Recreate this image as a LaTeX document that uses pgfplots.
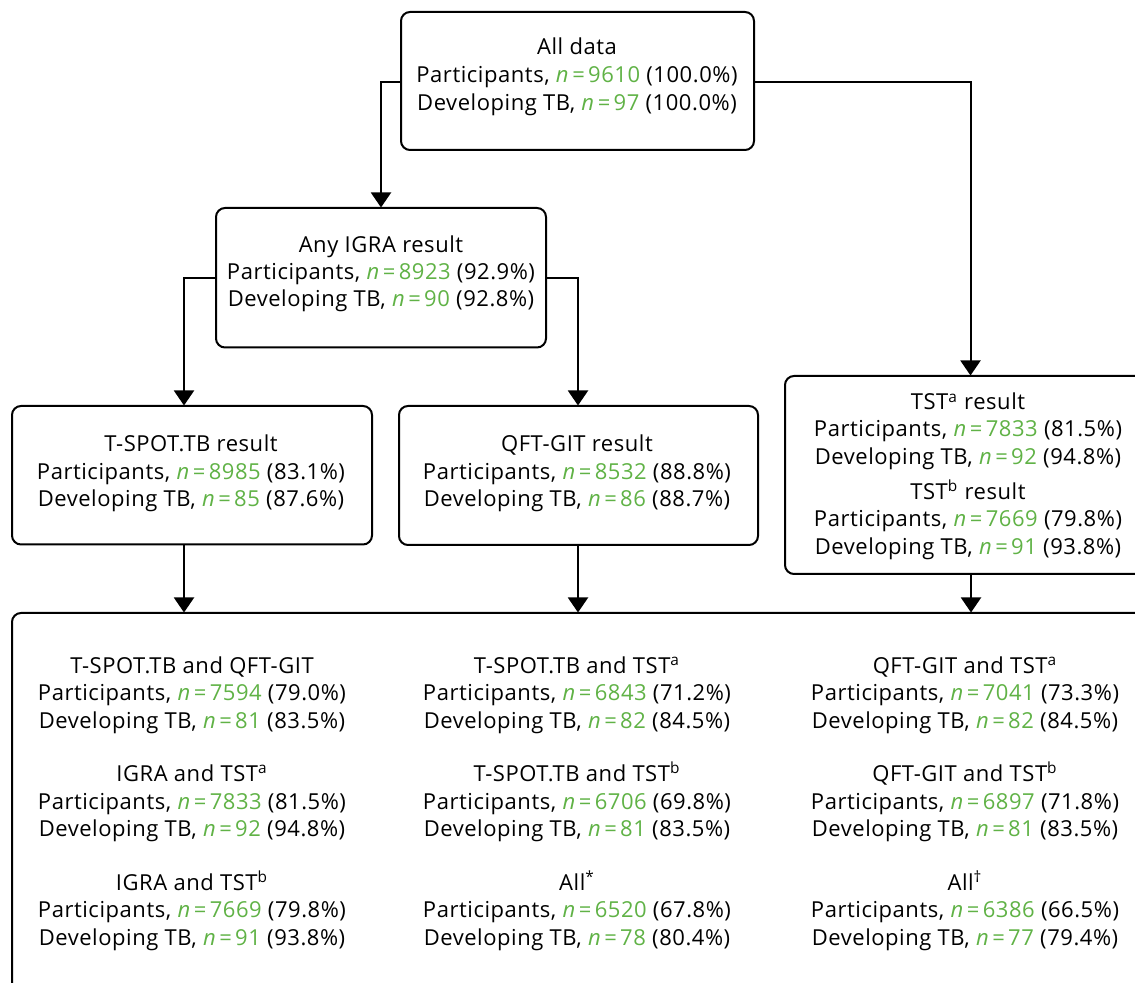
\documentclass[border=0pt]{standalone}
\usepackage{pgfplots}
\pgfplotsset{compat=1.18}
\usetikzlibrary{arrows.meta}
\usepackage{fontspec}
\setmainfont{Open Sans}[LetterSpace=2.5]
\definecolor{tbgreen}{RGB}{96,178,70}
\newcommand\nn[1]{\textcolor{tbgreen}{\textit{n}\kern1.6pt=\kern1.6pt#1}}
\newcommand\grp[9]{%
  \node[txt] at (axis cs:#1,#2) {#5};
  \node[txt] at (axis cs:#1,#3) {Participants, \nn{#6} (#7\%)};
  \node[txt] at (axis cs:#1,#4) {Developing TB, \nn{#8} (#9\%)};
}
\begin{document}
\begin{tikzpicture}[
  txt/.style={anchor=base,inner sep=0pt,font=\fontsize{11}{14}\selectfont},
  box/.style={line width=1pt,rounded corners=4.5pt},
  arr/.style={line width=1pt,-{Triangle[width=10pt,length=7.5pt]}}]
\useasboundingbox (0,0) rectangle (567.5pt,491.5pt);
\clip (0,0) rectangle (567.5pt,491.5pt);
\begin{axis}[at={(0,0)},anchor=south west,width=567.5pt,height=491.5pt,
  scale only axis,xmin=0,xmax=1135,ymin=0,ymax=983,y dir=reverse,
  hide axis,clip=false]
\addplot[draw=none] coordinates {(0,0)};
% boxes
\draw[box] (axis cs:401,12) rectangle (axis cs:754,150);
\draw[box] (axis cs:216,208) rectangle (axis cs:546,347.5);
\draw[box] (axis cs:12,406) rectangle (axis cs:372,544.5);
\draw[box] (axis cs:399,406) rectangle (axis cs:758,545);
\draw[box] (axis cs:785,376) rectangle (axis cs:1150,574);
\draw[box] (axis cs:12,613) rectangle (axis cs:1150,1000);
% arrows
\draw[arr] (axis cs:401,82) -| (axis cs:381,207.5);
\draw[arr] (axis cs:754,82) -| (axis cs:970.5,375.5);
\draw[arr] (axis cs:216,278) -| (axis cs:184,405.5);
\draw[arr] (axis cs:546,278) -| (axis cs:578,405.5);
\draw[arr] (axis cs:184,544.5) -- (axis cs:184,612.5);
\draw[arr] (axis cs:578,545) -- (axis cs:578,612.5);
\draw[arr] (axis cs:971,574) -- (axis cs:971,612.5);
% texts
\grp{577}{55}{83}{110.7}{All data}{9610}{100.0}{97}{100.0}
\grp{381}{252.3}{279.5}{306.5}{Any IGRA result}{8923}{92.9}{90}{92.8}
\grp{191}{452}{479.3}{506.5}{T-SPOT.TB result}{8985}{83.1}{85}{87.6}
\grp{577}{452}{479.3}{506.5}{QFT-GIT result}{8532}{88.8}{86}{88.7}
\grp{968}{410}{437}{464.3}{TST\textsuperscript{a} result}{7833}{81.5}{92}{94.8}
\grp{968}{499.3}{527}{554.3}{TST\textsuperscript{b} result}{7669}{79.8}{91}{93.8}
\grp{192}{673}{700.7}{728.3}{T-SPOT.TB and QFT-GIT}{7594}{79.0}{81}{83.5}
\grp{192}{781.7}{809.3}{836.7}{IGRA and TST\textsuperscript{a}}{7833}{81.5}{92}{94.8}
\grp{192}{890}{917.7}{945}{IGRA and TST\textsuperscript{b}}{7669}{79.8}{91}{93.8}
\grp{577}{673}{700.7}{728.3}{T-SPOT.TB and TST\textsuperscript{a}}{6843}{71.2}{82}{84.5}
\grp{577}{781.7}{809.3}{836.7}{T-SPOT.TB and TST\textsuperscript{b}}{6706}{69.8}{81}{83.5}
\grp{577}{890}{917.7}{945}{All\textsuperscript{*}}{6520}{67.8}{78}{80.4}
\grp{965}{673}{700.7}{728.3}{QFT-GIT and TST\textsuperscript{a}}{7041}{73.3}{82}{84.5}
\grp{965}{781.7}{809.3}{836.7}{QFT-GIT and TST\textsuperscript{b}}{6897}{71.8}{81}{83.5}
\grp{965}{890}{917.7}{945}{All\textsuperscript{\textdagger}}{6386}{66.5}{77}{79.4}
\end{axis}
\end{tikzpicture}
\end{document}
